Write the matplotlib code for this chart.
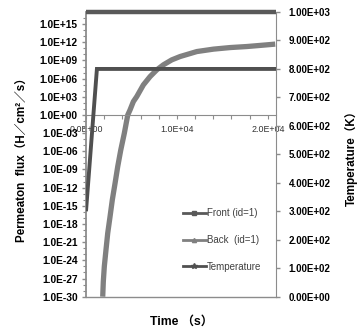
import numpy as np
import matplotlib
matplotlib.use("Agg")
import matplotlib.pyplot as plt
from matplotlib.lines import Line2D
from matplotlib.ticker import FuncFormatter, NullFormatter

# ---- data ----
front_time = [0, 20900]
front_flux = [1e17, 1e17]

back_time = [1839, 1905, 2015, 2203, 2390, 2643, 2896, 3194, 3491, 3822,
             4218, 4593, 4846, 5209, 5584, 6311, 7048, 7786, 8513, 9438,
             10352, 12192, 14020, 15859, 17698, 19526, 20815]
back_log = [-30.0, -27.5, -25.0, -22.2, -19.5, -16.8, -14.0, -11.3, -8.5, -5.8,
            -3.0, 0.0, 0.84, 2.21, 3.04, 4.97, 6.34, 7.45, 8.28, 9.10,
            9.65, 10.47, 10.87, 11.13, 11.30, 11.53, 11.70]
back_flux = [10.0 ** v for v in back_log]

temp_time = [0, 1200, 20900]
temp_K = [300, 800, 800]

labels = ["Front (id=1)", "Back  (id=1)", "Temperature"]

# ---- figure ----
W, H = 357, 329
fig = plt.figure(figsize=(W / 100, H / 100), dpi=100)
L, R, T, B = 86, 276, 12, 296.7
ax = fig.add_axes([L / W, (H - B) / H, (R - L) / W, (B - T) / H])
ax2 = ax.twinx()

gray_axis = "#8c8c8c"
c_front = "#595959"
c_back = "#808080"
c_temp = "#505050"

ax.set_yscale("log")
ax.set_ylim(1e-30, 1e17)
ax.set_xlim(0, 20900)
ax2.set_ylim(0, 1000)

ax.plot(front_time, front_flux, color=c_front, lw=3.2, clip_on=False,
        solid_capstyle="butt", zorder=3)
ax.plot(back_time, back_flux, color=c_back, lw=3.8, solid_capstyle="butt",
        solid_joinstyle="round", zorder=2)
ax2.plot(temp_time, temp_K, color=c_temp, lw=2.8, solid_capstyle="butt",
         solid_joinstyle="miter", zorder=3)

# spines
ax.spines["top"].set_visible(False)
ax2.spines["top"].set_visible(False)
ax2.spines["left"].set_visible(False)
ax2.spines["bottom"].set_visible(False)
ax.spines["right"].set_visible(False)
ax.spines["bottom"].set_position(("data", 1))
ax.spines["left"].set_color(gray_axis)
ax.spines["left"].set_linewidth(1.3)
ax.spines["bottom"].set_color(gray_axis)
ax2.spines["right"].set_color(gray_axis)
ax.axhline(1e-30, color=gray_axis, lw=1.0, clip_on=False, zorder=1)

# left axis ticks
ax.set_yticks([10.0 ** k for k in range(-30, 16, 3)])
ax.set_yticks([10.0 ** k for k in range(-30, 17) if k % 3 != 0], minor=True)
ax.yaxis.set_major_formatter(FuncFormatter(lambda v, p: "%.1E" % v))
ax.yaxis.set_minor_formatter(NullFormatter())
ax.tick_params(axis="y", which="major", direction="out", length=3, width=1,
               color=gray_axis, pad=3, labelsize=7.4)
ax.tick_params(axis="y", which="minor", direction="out", length=2, width=0.8,
               color=gray_axis)
for t in ax.get_yticklabels():
    t.set_fontfamily("Liberation Sans")
    t.set_fontweight("bold")

# x axis ticks
ax.set_xticks([0, 10000, 20000])
ax.set_xticks([k * 2000 for k in range(1, 10) if k != 5], minor=True)
ax.xaxis.set_major_formatter(FuncFormatter(lambda v, p: "%.1E" % v))
ax.tick_params(axis="x", which="both", direction="out", length=3, width=0.8,
               color=gray_axis, pad=4, labelsize=6.4, labelcolor="#333333")
for t in ax.get_xticklabels():
    t.set_fontfamily("Liberation Sans")

# right axis ticks
ax2.set_yticks(np.arange(0, 1001, 100))
ax2.yaxis.set_major_formatter(FuncFormatter(lambda v, p: "%.2E" % v))
ax2.tick_params(axis="y", direction="out", length=3, width=1,
                color=gray_axis, pad=6, labelsize=7.0)
for t in ax2.get_yticklabels():
    t.set_fontfamily("Liberation Sans")
    t.set_fontweight("bold")

# axis titles
fam = ["Liberation Sans", "Noto Sans CJK JP"]
fig.text(22 / W, 1 - 157.5 / H, "Permeaton  flux（H／cm²／s）", rotation=90,
         ha="center", va="center", fontsize=8.4, fontweight="bold", family=fam)
fig.text(351 / W, 1 - 155 / H, "Temperature（K）", rotation=90,
         ha="center", va="center", fontsize=8.4, fontweight="bold", family=fam)
fig.text(182 / W, 1 - 321.5 / H, "Time （s）", ha="center", va="center",
         fontsize=8.8, fontweight="bold", family=fam)

# legend
handles = [
    Line2D([], [], color=c_front, lw=2, marker="s", ms=3),
    Line2D([], [], color=c_back, lw=2, marker="^", ms=3),
    Line2D([], [], color=c_temp, lw=2, marker="*", ms=4),
]
leg = ax.legend(handles, labels, loc="center left",
                bbox_to_anchor=(182.7 / W, 1 - 240 / H),
                bbox_transform=fig.transFigure, frameon=False,
                borderpad=0, borderaxespad=0, handlelength=2.4,
                handletextpad=0.1, labelspacing=1.7,
                prop=dict(family="Liberation Sans", size=7))
for t in leg.get_texts():
    t.set_color("#404040")

fig.savefig("out.png", dpi=100)
